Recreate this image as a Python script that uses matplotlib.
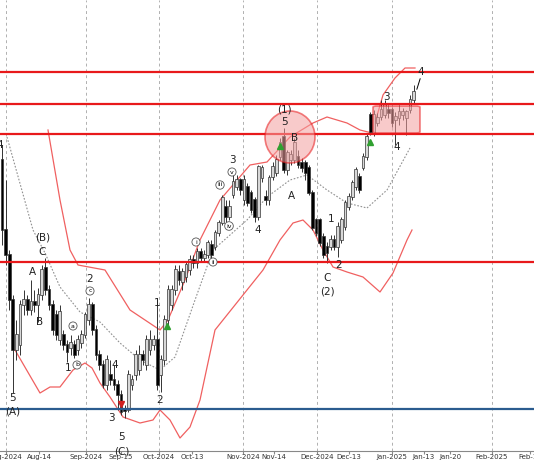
import matplotlib.pyplot as plt
import matplotlib.patches as mpatches
import numpy as np

# candle data in pixel rows (smaller = higher)
o = [160, 230, 255, 300, 350, 345, 305, 300, 310, 302, 305, 295, 268, 290, 305, 315, 340, 335, 345, 348,
     345, 350, 343, 335, 320, 305, 330, 355, 365, 385, 375, 380, 385, 395, 410, 410, 385, 375, 370, 355,
     365, 350, 345, 340, 375, 360, 320, 305, 290, 272, 282, 277, 270, 260, 263, 252, 258, 255, 245, 247,
     233, 223, 207, 217, 195, 187, 180, 200, 187, 193, 200, 217, 178, 197, 200, 177, 173, 157, 137, 170,
     160, 160, 157, 163, 163, 168, 193, 220, 220, 237, 247, 247, 240, 247, 240, 227, 207, 197, 187, 177,
     168, 157, 115, 133, 123, 117, 115, 110, 110, 120, 118, 115, 118, 110, 100]
c = [230, 255, 300, 350, 335, 305, 300, 310, 302, 305, 295, 270, 290, 305, 330, 335, 312, 345, 352, 343,
     355, 340, 335, 315, 305, 330, 355, 365, 385, 360, 380, 385, 395, 412, 411, 375, 380, 355, 355, 360,
     340, 340, 340, 385, 360, 320, 290, 290, 270, 280, 272, 265, 260, 263, 252, 258, 255, 243, 255, 233,
     223, 198, 217, 207, 182, 180, 190, 180, 203, 210, 217, 167, 168, 200, 178, 167, 160, 143, 170, 153,
     155, 143, 165, 168, 173, 193, 228, 233, 243, 255, 253, 240, 247, 227, 220, 203, 197, 183, 170, 190,
     157, 137, 132, 115, 118, 110, 105, 113, 123, 117, 112, 112, 112, 100, 92]
h = [145, 180, 250, 295, 320, 300, 290, 295, 280, 290, 288, 265, 258, 285, 300, 310, 305, 330, 340, 335,
     340, 335, 330, 312, 298, 302, 325, 350, 360, 355, 360, 365, 380, 390, 405, 370, 375, 350, 345, 350,
     335, 330, 335, 300, 355, 315, 285, 285, 265, 265, 268, 262, 255, 255, 248, 248, 250, 240, 240, 230,
     220, 195, 200, 200, 175, 175, 178, 175, 183, 190, 197, 165, 165, 190, 175, 162, 155, 138, 128, 150,
     150, 138, 150, 158, 160, 165, 190, 218, 218, 233, 242, 235, 235, 222, 217, 200, 193, 180, 167, 173,
     153, 133, 112, 110, 113, 100, 100, 105, 107, 112, 105, 108, 110, 95, 85]
l = [245, 265, 310, 393, 360, 355, 315, 315, 315, 312, 322, 300, 295, 310, 335, 340, 345, 350, 362, 355,
     358, 355, 348, 338, 325, 335, 360, 370, 388, 390, 385, 390, 410, 415, 418, 412, 390, 380, 375, 365,
     370, 355, 350, 390, 392, 365, 325, 310, 295, 285, 290, 282, 275, 268, 268, 262, 262, 258, 260, 250,
     236, 225, 222, 220, 198, 190, 195, 205, 206, 213, 222, 220, 182, 205, 205, 180, 176, 160, 173, 175,
     165, 163, 168, 172, 180, 195, 230, 236, 246, 258, 263, 250, 250, 257, 243, 230, 210, 200, 190, 193,
     170, 160, 135, 136, 126, 120, 118, 118, 127, 145, 125, 120, 135, 113, 103]

# bands and average, (pixel x, pixel y)
upper_x = [48, 60, 70, 78, 105, 130, 160, 168, 185, 200, 220, 250, 267, 290, 313, 327, 347, 360, 372, 383, 395, 405, 415]
upper_y = [130, 200, 250, 265, 270, 310, 330, 320, 280, 240, 200, 165, 162, 137, 123, 117, 123, 130, 133, 95, 78, 68, 68]
lower_x = [15, 40, 50, 60, 73, 85, 92, 100, 110, 123, 140, 153, 160, 170, 180, 190, 200, 215, 247, 263, 280, 293, 303,
           313, 323, 333, 347, 363, 380, 393, 407, 412]
lower_y = [350, 393, 387, 387, 370, 363, 368, 383, 397, 417, 423, 420, 410, 420, 438, 427, 400, 330, 290, 270, 240, 223,
           220, 230, 250, 267, 272, 277, 292, 273, 240, 230]
ma_x = [7, 33, 45, 60, 80, 100, 120, 140, 160, 175, 195, 213, 247, 267, 290, 307, 327, 347, 367, 387, 410]
ma_y = [137, 230, 253, 287, 312, 322, 343, 360, 370, 357, 300, 250, 220, 197, 180, 175, 190, 203, 208, 190, 148]

tick_px = [6, 39, 86, 121, 159, 192, 243, 274, 317, 349, 392, 424, 450, 492, 530]
tick_lbl = ['Aug-2024', 'Aug-14', 'Sep-2024', 'Sep-15', 'Oct-2024', 'Oct-13', 'Nov-2024', 'Nov-14',
            'Dec-2024', 'Dec-13', 'Jan-2025', 'Jan-13', 'Jan-20', 'Feb-2025', 'Feb-10']
month_px = [6, 86, 159, 243, 317, 392, 492]

red_levels = [72, 104, 134, 262]
blue_level = 409

# wave labels (pixel x, pixel y, text, circled)
labels = [(0, 145, '4', 0), (43, 238, '(B)', 0), (42, 252, 'C', 0), (32, 272, 'A', 0), (40, 322, 'B', 0),
          (68, 368, '1', 0), (73, 326, 'a', 1), (77, 365, 'b', 1), (90, 291, 'c', 1), (90, 279, '2', 0),
          (115, 365, '4', 0), (111, 418, '3', 0), (122, 437, '5', 0), (122, 451, '(C)', 0), (13, 398, '5', 0),
          (13, 411, '(A)', 0), (157, 303, '1', 0), (160, 400, '2', 0), (196, 242, 'i', 1), (213, 262, 'ii', 1),
          (220, 185, 'iii', 1), (229, 226, 'iv', 1), (232, 172, 'v', 1), (232, 160, '3', 0), (258, 230, '4', 0),
          (284, 110, '(1)', 0), (284, 122, '5', 0), (295, 138, 'B', 0), (291, 196, 'A', 0), (331, 219, '1', 0),
          (327, 278, 'C', 0), (327, 292, '(2)', 0), (339, 265, '2', 0), (386, 97, '3', 0), (397, 147, '4', 0),
          (421, 72, '4', 0)]

step = 3.61
x0 = 2
def xi(px):
    return (np.array(px, dtype=float) - x0) / step

def py(y):
    return 462 - np.array(y, dtype=float)

fig = plt.figure(figsize=(5.34, 4.62), dpi=100)
ax = fig.add_axes([0, 11 / 462, 1, 451 / 462])
ax.set_xlim(xi(0), xi(534))
ax.set_ylim(py(451), py(0))

for m in month_px:
    ax.axvline(xi(m), color='#b0b0b0', lw=0.7, ls=(0, (3, 3)), zorder=0)

O, C, H, L = py(o), py(c), py(h), py(l)
for i in range(len(O)):
    up = C[i] >= O[i]
    ax.vlines(i, L[i], H[i], color='#333333', lw=0.7, zorder=2)
    ax.bar(i, abs(C[i] - O[i]) + 0.6, bottom=min(O[i], C[i]), width=0.75,
           color='#d8d8d8' if up else 'black', edgecolor='#333333', lw=0.5, zorder=3)

ax.plot(xi(upper_x), py(upper_y), color='#f06060', lw=0.9, zorder=1)
ax.plot(xi(lower_x), py(lower_y), color='#f06060', lw=0.9, zorder=1)
ax.plot(xi(ma_x), py(ma_y), color='#909090', lw=0.8, ls=(0, (1.5, 1.5)), zorder=1)

for lv in red_levels:
    ax.axhline(py(lv), color='#e8191b', lw=1.6, zorder=4)
ax.axhline(py(blue_level), color='#2b5c8f', lw=1.6, zorder=4)

circ = mpatches.Ellipse((xi(290), py(137)), 50 / step, 52, facecolor='#f4a0a0', alpha=0.55,
                        edgecolor='#e8191b', lw=1.2, zorder=5)
ax.add_patch(circ)
rect = mpatches.FancyBboxPatch((xi(373), py(133)), (420 - 373) / step, 27,
                               boxstyle='round,pad=0,rounding_size=1.2', facecolor='#f4a0a0', alpha=0.55,
                               edgecolor='#e8191b', lw=1.2, zorder=5)
ax.add_patch(rect)

ax.annotate('', xy=(xi(421), py(76)), xytext=(xi(416), py(92)),
            arrowprops=dict(arrowstyle='-', color='black', lw=0.7))
ax.plot([xi(121)], [py(404)], marker='v', color='#d02020', ms=4, zorder=6)
for gx, gy in [(167, 326), (280, 146), (370, 142)]:
    ax.plot([xi(gx)], [py(gy)], marker='^', color='#30a030', ms=4, zorder=6)

for x, y, t, circled in labels:
    if circled:
        ax.text(xi(x), py(y), t, fontsize=4.5, ha='center', va='center', zorder=7,
                bbox=dict(boxstyle='circle,pad=0.25', fc='white', ec='#555555', lw=0.6))
    else:
        ax.text(xi(x), py(y), t, fontsize=7.5, ha='center', va='center', color='#222222', zorder=7)

ax.set_xticks(xi(tick_px))
ax.set_xticklabels(tick_lbl, fontsize=5, color='#333333')
ax.tick_params(axis='x', length=2, pad=0.5, color='#888888')
ax.set_yticks([])
for s in ['top', 'right', 'left']:
    ax.spines[s].set_visible(False)
ax.spines['bottom'].set_color('#888888')

fig.savefig('out.png', dpi=100)
